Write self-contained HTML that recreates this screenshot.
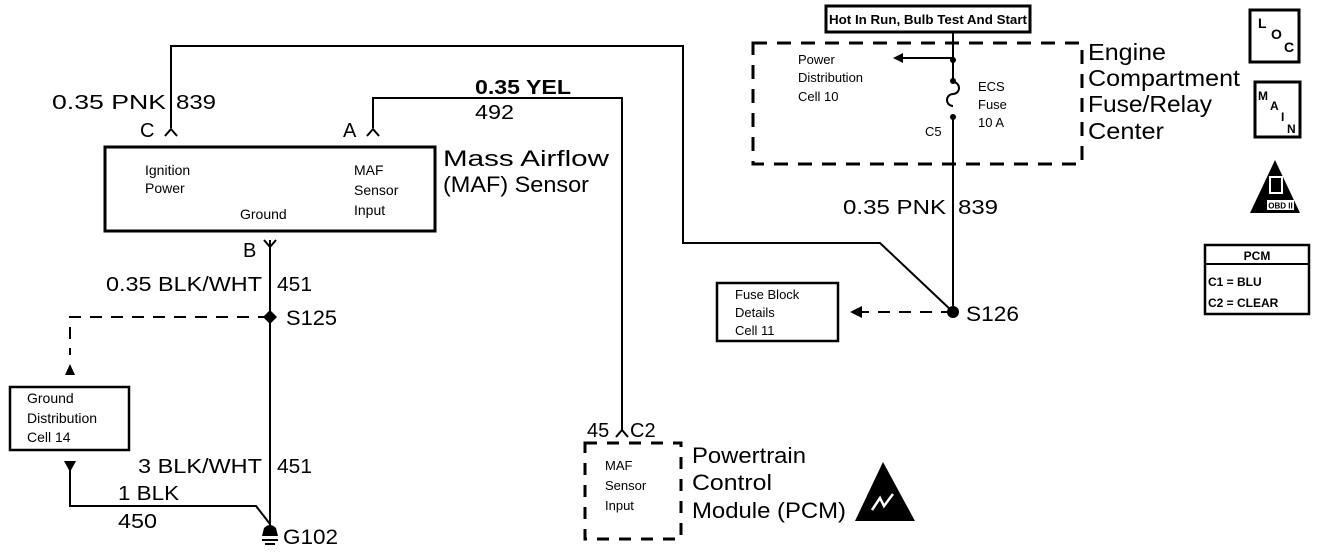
<!DOCTYPE html>
<html><head><meta charset="utf-8"><style>
html,body{margin:0;padding:0;background:#fff;}
svg{display:block;}
text{font-family:"Liberation Sans",Arial,sans-serif;fill:#000;}
.b{font-weight:bold;}
</style></head><body>
<svg width="1344" height="558" viewBox="0 0 1344 558" xmlns="http://www.w3.org/2000/svg">
<g stroke="#000" fill="none" stroke-width="2">
<polyline points="171,128 171,46 683,46 683,243 880,243 953,312"/>
<polyline points="373,128 373,98 622,98 622,430"/>
<polyline points="165,136 171,129 177,136"/>
<polyline points="367,136 373,129 379,136"/>
<rect x="105" y="147" width="330" height="84" stroke-width="3"/>
<polyline points="264,240 270,247 276,240"/>
<line x1="270" y1="240" x2="270" y2="526"/>
<polyline points="70,470 70,506 256,506 270,524"/>
<polyline points="270,317 70,317 70,355" stroke-dasharray="12,9"/>
<rect x="10" y="387" width="119" height="63" stroke-width="2.5"/>
<line x1="953" y1="33" x2="953" y2="82"/>
<path d="M953,82 a6,6 0 0 1 0,12 a6,6 0 0 0 0,12"/>
<line x1="953" y1="118" x2="953" y2="312"/>
<line x1="953" y1="58" x2="900" y2="58"/>
<rect x="826" y="6" width="204" height="26" stroke-width="3"/>
<rect x="753" y="43" width="329" height="121" stroke-width="3" stroke-dasharray="14,10"/>
<line x1="953" y1="312" x2="860" y2="312" stroke-dasharray="12,9"/>
<rect x="717" y="283" width="121" height="58" stroke-width="2.5"/>
<polyline points="616,437 622,430 628,437"/>
<rect x="585" y="443" width="96" height="96" stroke-width="3" stroke-dasharray="12,10"/>
<rect x="1250" y="10" width="49" height="52" stroke-width="3"/>
<rect x="1255" y="82" width="45" height="55" stroke-width="3"/>
<rect x="1205" y="245" width="104" height="69" stroke-width="2.5"/>
<line x1="1205" y1="264" x2="1309" y2="264" stroke-width="2"/>
<line x1="262" y1="540" x2="278" y2="540"/>
<line x1="265" y1="544" x2="275" y2="544"/>
</g>
<g fill="#000">
<polygon points="893,58 903,53 903,63"/>
<polygon points="850,312 862,306 862,318"/>
<polygon points="70,364 65,375 75,375"/>
<polygon points="64,461 76,461 70,472"/>
<polygon points="270,310 277,317 270,324 263,317"/>
<circle cx="953" cy="312" r="6"/>
<circle cx="953" cy="60" r="3"/>
<circle cx="953" cy="81" r="3"/>
<circle cx="953" cy="117" r="3"/>
<path d="M262,536 L264,528 Q270,522 276,528 L278,536 Z"/>
<polygon points="1275,160 1250,213 1300,213"/>
<polygon points="883,462 855,521 915,521"/>
</g>
<path d="M872,510 L880,498 L884,506 L893,494" stroke="#fff" stroke-width="2.5" fill="none"/>
<rect x="1267" y="200" width="27" height="10" fill="#fff"/>
<text x="1280.5" y="208.5" font-size="8" text-anchor="middle" class="b">OBD II</text>
<rect x="1270" y="177" width="12" height="16" fill="none" stroke="#fff" stroke-width="2"/>
<g lengthAdjust="spacingAndGlyphs">
<text class="b" font-size="13" x="829" y="24" textLength="198" lengthAdjust="spacingAndGlyphs">Hot In Run, Bulb Test And Start</text>
<text font-size="13" x="798" y="64">Power</text>
<text font-size="13" x="798" y="82">Distribution</text>
<text font-size="13" x="798" y="101">Cell 10</text>
<text font-size="13" x="978" y="91">ECS</text>
<text font-size="13" x="978" y="109">Fuse</text>
<text font-size="13" x="978" y="127">10 A</text>
<text font-size="13" x="925" y="136">C5</text>
<text font-size="23" x="1088" y="60" textLength="78" lengthAdjust="spacingAndGlyphs">Engine</text>
<text font-size="23" x="1088" y="86" textLength="152" lengthAdjust="spacingAndGlyphs">Compartment</text>
<text font-size="23" x="1088" y="112" textLength="124" lengthAdjust="spacingAndGlyphs">Fuse/Relay</text>
<text font-size="23" x="1088" y="139" textLength="76" lengthAdjust="spacingAndGlyphs">Center</text>
<text font-size="20" x="843" y="214" textLength="103" lengthAdjust="spacingAndGlyphs">0.35 PNK</text>
<text font-size="20" x="958" y="214" textLength="40" lengthAdjust="spacingAndGlyphs">839</text>
<text font-size="21" x="966" y="321" textLength="53" lengthAdjust="spacingAndGlyphs">S126</text>
<text font-size="13" x="735" y="299">Fuse Block</text>
<text font-size="13" x="735" y="317">Details</text>
<text font-size="13" x="735" y="335">Cell 11</text>
<text font-size="20" x="52" y="109" textLength="114" lengthAdjust="spacingAndGlyphs">0.35 PNK</text>
<text font-size="20" x="176" y="109" textLength="40" lengthAdjust="spacingAndGlyphs">839</text>
<text font-size="20" x="140" y="137">C</text>
<text font-size="20" x="343" y="137">A</text>
<text font-size="20" x="475" y="94" class="b" textLength="96" lengthAdjust="spacingAndGlyphs">0.35 YEL</text>
<text font-size="20" x="475" y="119" textLength="39" lengthAdjust="spacingAndGlyphs">492</text>
<text font-size="14" x="145" y="175">Ignition</text>
<text font-size="14" x="145" y="193">Power</text>
<text font-size="14" x="240" y="219">Ground</text>
<text font-size="14" x="354" y="175">MAF</text>
<text font-size="14" x="354" y="195">Sensor</text>
<text font-size="14" x="354" y="215">Input</text>
<text font-size="22" x="443" y="166" textLength="166" lengthAdjust="spacingAndGlyphs">Mass Airflow</text>
<text font-size="22" x="443" y="192" textLength="146" lengthAdjust="spacingAndGlyphs">(MAF) Sensor</text>
<text font-size="20" x="243" y="257">B</text>
<text font-size="20" x="106" y="291" textLength="156" lengthAdjust="spacingAndGlyphs">0.35 BLK/WHT</text>
<text font-size="20" x="277" y="291" textLength="35" lengthAdjust="spacingAndGlyphs">451</text>
<text font-size="21" x="286" y="325" textLength="51" lengthAdjust="spacingAndGlyphs">S125</text>
<text font-size="14" x="27" y="403">Ground</text>
<text font-size="14" x="27" y="423">Distribution</text>
<text font-size="14" x="27" y="442">Cell 14</text>
<text font-size="20" x="138" y="473" textLength="124" lengthAdjust="spacingAndGlyphs">3 BLK/WHT</text>
<text font-size="20" x="277" y="473" textLength="35" lengthAdjust="spacingAndGlyphs">451</text>
<text font-size="20" x="118" y="500" textLength="61" lengthAdjust="spacingAndGlyphs">1 BLK</text>
<text font-size="20" x="118" y="528" textLength="39" lengthAdjust="spacingAndGlyphs">450</text>
<text font-size="21" x="283" y="544" textLength="55" lengthAdjust="spacingAndGlyphs">G102</text>
<text font-size="20" x="587" y="437">45</text>
<text font-size="20" x="630" y="437">C2</text>
<text font-size="13" x="605" y="470">MAF</text>
<text font-size="13" x="605" y="490">Sensor</text>
<text font-size="13" x="605" y="510">Input</text>
<text font-size="22" x="692" y="463" textLength="114" lengthAdjust="spacingAndGlyphs">Powertrain</text>
<text font-size="22" x="692" y="490" textLength="80" lengthAdjust="spacingAndGlyphs">Control</text>
<text font-size="22" x="692" y="518" textLength="154" lengthAdjust="spacingAndGlyphs">Module (PCM)</text>
</g>
<text font-size="14" x="1258" y="28" class="b">L</text>
<text font-size="14" x="1271" y="39" class="b">O</text>
<text font-size="14" x="1284" y="52" class="b">C</text>
<text font-size="12" x="1258" y="100" class="b">M</text>
<text font-size="12" x="1270" y="110" class="b">A</text>
<text font-size="12" x="1281" y="121" class="b">I</text>
<text font-size="12" x="1287" y="133" class="b">N</text>
<text font-size="12" x="1257" y="260" text-anchor="middle" class="b">PCM</text>
<text font-size="12" x="1208" y="286" class="b">C1 = BLU</text>
<text font-size="12" x="1208" y="307" class="b">C2 = CLEAR</text>
</svg>
</body></html>
